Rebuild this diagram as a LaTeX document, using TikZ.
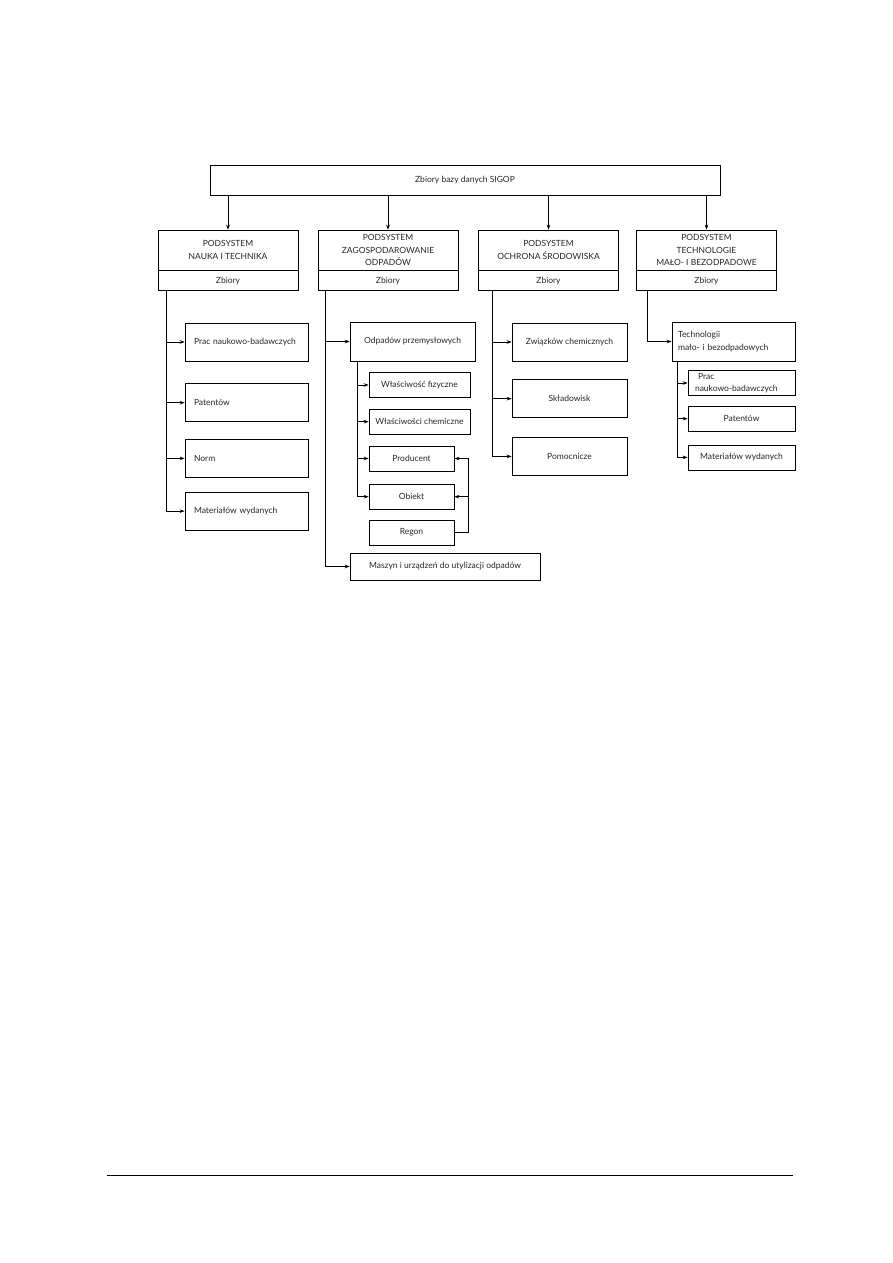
\documentclass[tikz,border=0pt]{standalone}
\usepackage{fontspec}
\setmainfont{Lato}
\usetikzlibrary{
	arrows.meta,
	positioning
}

\begin{document}
\begin{tikzpicture}[x=1pt,y=-1pt,>={Stealth[length=5pt,width=3.6pt]},
	box/.style={draw,line width=0.7pt,inner sep=0pt,align=center,
		font=\fontsize{8.5}{12.5}\selectfont,text=black!85},
	head/.style={box,minimum width=140,minimum height=40},
	zb/.style={box,minimum width=140,minimum height=20,below=0pt of #1},
	leaf/.style={box,minimum height=38,text width=105,inner xsep=9,align=left},
	mid/.style={box,minimum height=38,minimum width=115},
	small/.style={box,minimum height=25,minimum width=#1},
	conn/.style={line width=0.7pt}]
	
	\useasboundingbox (0,0) rectangle (893,1263);
	
	\node[box,minimum width=510,minimum height=30] (sigop) at (465,180)
	{Zbiory bazy danych SIGOP};
	
	\node[head] (nauka) at (228,250) {PODSYSTEM\\NAUKA I TECHNIKA};
	\node[zb=nauka] (naukaz) {Zbiory};
	\node[head] (zagosp) at (388,250) {PODSYSTEM\\ZAGOSPODAROWANIE\\ODPADÓW};
	\node[zb=zagosp] (zagospz) {Zbiory};
	\node[head] (ochrona) at (548.5,250) {PODSYSTEM\\OCHRONA ŚRODOWISKA};
	\node[zb=ochrona] (ochronaz) {Zbiory};
	\node[head] (techn) at (706.5,250) {PODSYSTEM\\TECHNOLOGIE\\MAŁO- I BEZODPADOWE};
	\node[zb=techn] (technz) {Zbiory};
	
	\foreach \s in {nauka,zagosp,ochrona,techn}
		\draw[conn,->] (sigop.south -| \s.north) -- (\s.north);
	
	% nauka i technika
	\node[leaf] (prac1) at (246.5,342) {Prac naukowo-badawczych};
	\node[leaf,below=22pt of prac1] (pat1) {Patentów};
	\node[leaf,below=17pt of pat1] (norm1) {Norm};
	\node[leaf,below=14pt of norm1] (mat1) {Materiałów wydanych};
	
	\coordinate (t1) at ([xshift=9pt]naukaz.south west);
	\foreach \n in {prac1,pat1,norm1,mat1}
		\draw[conn,->] (t1) |- (\n.west);
	
	% zagospodarowanie odpadow
	\node[box,minimum width=125,minimum height=39] (odp) at (412.5,341.5)
	{Odpadów przemysłowych};
	\node[small=101] (fiz) at (419.5,385) {Właściwość fizyczne};
	\node[small=101,below=11pt of fiz] (chem) {Właściwości chemiczne};
	\node[small=85] (prod) at (411.5,458.5) {Producent};
	\node[small=85,below=12.5pt of prod] (obj) {Obiekt};
	\node[small=85,below=10pt of obj] (regon) {Regon};
	\node[box,minimum width=190,minimum height=27] (masz) at (445,566.5)
	{Maszyn i urządzeń do utylizacji odpadów};
	
	\coordinate (t2) at ([xshift=8pt]zagospz.south west);
	\draw[conn,->] (t2) |- (odp.west);
	\draw[conn,->] (t2) |- (masz.west);
	\coordinate (t2b) at ([xshift=8pt]odp.south west);
	\foreach \n in {fiz,chem,prod,obj}
		\draw[conn,->] (t2b) |- (\n.west);
	\coordinate (fb) at ([xshift=14pt]regon.east);
	\draw[conn,->] (regon.east) -- (fb) |- (prod.east);
	\draw[conn,->] (fb) |- (obj.east);
	
	% ochrona srodowiska
	\node[mid] (zwi) at (569.5,342) {Związków chemicznych};
	\node[mid,below=18pt of zwi] (skl) {Składowisk};
	\node[mid,below=19pt of skl] (pom) {Pomocnicze};
	
	\coordinate (t3) at ([xshift=14pt]ochronaz.south west);
	\foreach \n in {zwi,skl,pom}
		\draw[conn,->] (t3) |- (\n.west);
	
	% technologie malo- i bezodpadowe
	\node[box,minimum height=39,text width=111,inner xsep=6,align=left] (tmb) at (733.5,341.5)
	{Technologii\\mało- i bezodpadowych};
	\node[small=107,text width=93,inner xsep=7,align=left] (prac4) at (741.5,383)
	{\hspace*{3pt}Prac\\naukowo-badawczych};
	\node[small=107,below=10pt of prac4] (pat4) {Patentów};
	\node[small=107,below=13pt of pat4] (mat4) {Materiałów wydanych};
	
	\coordinate (t4) at ([xshift=11pt]technz.south west);
	\draw[conn,->] (t4) |- (tmb.west);
	\coordinate (t4b) at ([xshift=6pt]tmb.south west);
	\foreach \n in {prac4,pat4,mat4}
		\draw[conn,->] (t4b) |- (\n.west);
	
	% stopka
	\draw[line width=1pt] (107,1175) -- (793,1175);
	
\end{tikzpicture}
\end{document}
